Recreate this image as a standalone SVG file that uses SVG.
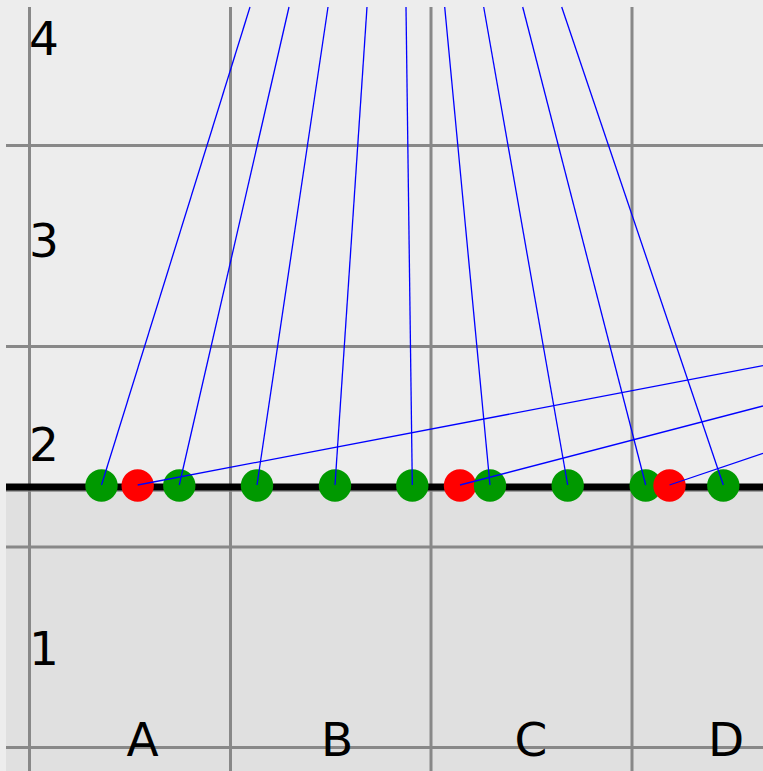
<svg xmlns="http://www.w3.org/2000/svg" width="763" height="771" viewBox="0 0 763 771">
<style>
.grid{stroke:#888888;stroke-width:3;fill:none}
.lbl{font-family:"DejaVu Sans","Liberation Sans",sans-serif;font-size:47px;fill:#000}
.g{fill:#009900}
.r{fill:#ff0000}
.c{stroke:#0000ff;stroke-width:1.3;fill:none}
</style>
<rect x="0" y="0" width="763" height="771" fill="#ededed"/>
<rect x="6" y="489" width="757" height="282" fill="#e0e0e0"/>
<g id="grid">
<line class="grid" x1="29.5" y1="7" x2="29.5" y2="771"/>
<line class="grid" x1="230.5" y1="7" x2="230.5" y2="771"/>
<line class="grid" x1="431" y1="7" x2="431" y2="771"/>
<line class="grid" x1="632" y1="7" x2="632" y2="771"/>
<line class="grid" x1="6" y1="145.5" x2="763" y2="145.5"/>
<line class="grid" x1="6" y1="346.5" x2="763" y2="346.5"/>
<line class="grid" x1="6" y1="547" x2="763" y2="547"/>
<line class="grid" x1="6" y1="747.5" x2="763" y2="747.5"/>
<line x1="6" y1="491" x2="763" y2="491" stroke="#888888" stroke-width="1.5"/>
</g>
<g id="labels">
<text class="lbl" x="29" y="55">4</text>
<text class="lbl" x="29" y="257">3</text>
<text class="lbl" x="29" y="461">2</text>
<text class="lbl" x="29" y="665">1</text>
<text class="lbl" x="142.5" y="756" text-anchor="middle">A</text>
<text class="lbl" x="337" y="756" text-anchor="middle">B</text>
<text class="lbl" x="531" y="756" text-anchor="middle">C</text>
<text class="lbl" x="726" y="756" text-anchor="middle">D</text>
</g>
<line id="baseline" x1="6" y1="487" x2="763" y2="487" stroke="#000" stroke-width="7"/>
<g id="n1"><circle class="g" cx="101.5" cy="485.5" r="16.2"/></g>
<g id="r1"><circle class="r" cx="137.7" cy="485.5" r="16.2"/></g>
<g id="n2"><circle class="g" cx="179.3" cy="485.5" r="16.2"/></g>
<g id="n3"><circle class="g" cx="257" cy="485.5" r="16.2"/></g>
<g id="n4"><circle class="g" cx="335" cy="485.5" r="16.2"/></g>
<g id="n5"><circle class="g" cx="412.3" cy="485.5" r="16.2"/></g>
<g id="r2"><circle class="r" cx="460" cy="485.5" r="16.2"/></g>
<g id="n6"><circle class="g" cx="490" cy="485.5" r="16.2"/></g>
<g id="n7"><circle class="g" cx="567.7" cy="485.5" r="16.2"/></g>
<g id="n8"><circle class="g" cx="645.7" cy="485.5" r="16.2"/></g>
<g id="r3"><circle class="r" cx="669.5" cy="485.5" r="16.2"/></g>
<g id="n9"><circle class="g" cx="723.3" cy="485.5" r="16.2"/></g>
<g id="connectors">
<line class="c" x1="101.5" y1="485" x2="250" y2="7"/>
<line class="c" x1="179.3" y1="485" x2="289" y2="7"/>
<line class="c" x1="257" y1="485" x2="328" y2="7"/>
<line class="c" x1="335" y1="485" x2="367" y2="7"/>
<line class="c" x1="412.3" y1="485" x2="406" y2="7"/>
<line class="c" x1="490" y1="485" x2="444.7" y2="7"/>
<line class="c" x1="567.7" y1="485" x2="483.7" y2="7"/>
<line class="c" x1="645.7" y1="485" x2="522.7" y2="7"/>
<line class="c" x1="723.3" y1="485" x2="561.7" y2="7"/>
<line class="c" x1="137.7" y1="485" x2="763" y2="365.7"/>
<line class="c" x1="460" y1="485" x2="763" y2="406"/>
<line class="c" x1="669.5" y1="485" x2="763" y2="453.3"/>
</g>
</svg>
